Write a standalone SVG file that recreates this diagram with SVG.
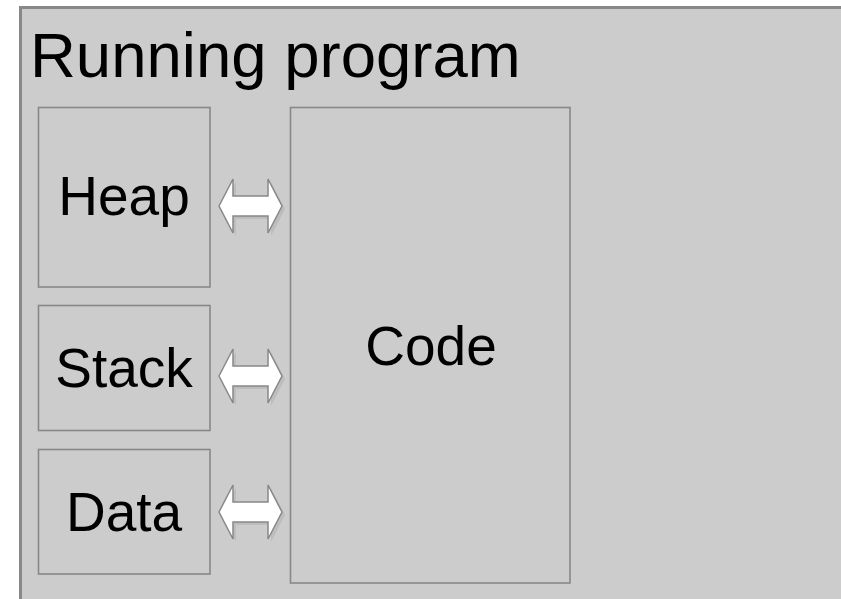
<svg xmlns="http://www.w3.org/2000/svg" width="841" height="599" viewBox="0 0 841 599">
  <style>
    .frame { fill: #cccccc; stroke: #888888; stroke-width: 3; }
    .box { fill: #cccccc; stroke: #888888; stroke-width: 1.6; }
    .label { font-family: "Liberation Sans", Arial, sans-serif; font-size: 55px; fill: #000000; text-anchor: middle; }
    .title { font-family: "Liberation Sans", Arial, sans-serif; font-size: 63.5px; fill: #000000; }
    .arrow { fill: #ffffff; stroke: #888888; stroke-width: 1.5; stroke-linejoin: miter; }
    .shadow { fill: #bdbdbd; }
  </style>
  <defs>
    <!-- double-headed block arrow, centred on y = 0 -->
    <path id="dbl" d="M219,0 L233,-27 L233,-10 L268,-10 L268,-27 L282,0 L268,27 L268,10 L233,10 L233,27 Z"/>
  </defs>

  <!-- outer process frame -->
  <g id="running-program">
    <rect class="frame" x="20.5" y="7.5" width="840" height="600"/>
    <text class="title" x="30" y="77">Running program</text>
  </g>

  <g id="heap">
    <rect class="box" x="38.5" y="107.5" width="171.5" height="179.5"/>
    <text class="label" x="124" y="215">Heap</text>
  </g>

  <g id="stack">
    <rect class="box" x="38.5" y="305.5" width="171.5" height="125"/>
    <text class="label" x="124" y="387">Stack</text>
  </g>

  <g id="data">
    <rect class="box" x="38.5" y="449.5" width="171.5" height="124.5"/>
    <text class="label" x="124" y="531">Data</text>
  </g>

  <g id="code">
    <rect class="box" x="290.5" y="107.5" width="279.5" height="475.5"/>
    <text class="label" x="431" y="365">Code</text>
  </g>

  <!-- connectors between the segments and the code -->
  <g id="connectors">
    <use href="#dbl" class="shadow" transform="translate(3,209)"/>
    <use href="#dbl" class="arrow" transform="translate(0,206)"/>
    <use href="#dbl" class="shadow" transform="translate(3,379)"/>
    <use href="#dbl" class="arrow" transform="translate(0,376)"/>
    <use href="#dbl" class="shadow" transform="translate(3,515)"/>
    <use href="#dbl" class="arrow" transform="translate(0,512)"/>
  </g>
</svg>
